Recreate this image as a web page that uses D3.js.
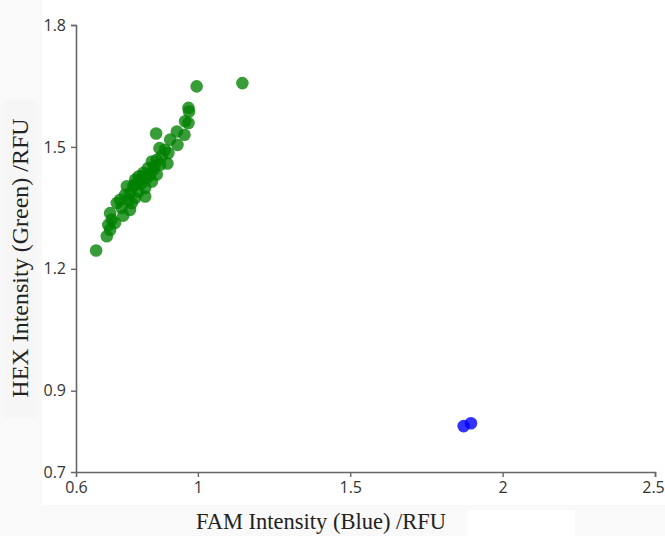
<!DOCTYPE html>
<html>
<head>
<meta charset="utf-8">
<script src="https://cdn.jsdelivr.net/npm/d3@7.9.0/dist/d3.min.js"></script>
<style>
  body { margin: 0; background: #ffffff; }
  svg { display: block; }
  .tick text { font-family: 'Open Sans', 'Noto Sans', sans-serif; font-size: 16px; fill: #333; }
  .axis-title { font-family: 'Liberation Serif', 'DejaVu Serif', serif; fill: #222; }
</style>
</head>
<body>
<svg id="chart" width="665" height="536"></svg>
<script>
// HEX cluster (green)
const hexFam = [0.666, 1.146, 0.996, 0.969, 0.971, 0.958, 0.969, 0.863, 0.931, 0.956,
  0.909, 0.933, 0.874, 0.892, 0.903, 0.881, 0.865, 0.900, 0.849, 0.837,
  0.854, 0.821, 0.865, 0.805, 0.832, 0.794, 0.849, 0.816, 0.788, 0.827,
  0.767, 0.777, 0.805, 0.827, 0.794, 0.761, 0.772, 0.734, 0.783, 0.750,
  0.777, 0.712, 0.755, 0.717, 0.706, 0.728, 0.701, 0.712, 0.794, 0.810,
  0.843, 0.876, 0.745, 0.820, 0.858];
const hexHex = [1.245, 1.657, 1.649, 1.596, 1.587, 1.563, 1.559, 1.533, 1.538, 1.530,
  1.518, 1.505, 1.497, 1.493, 1.485, 1.477, 1.468, 1.459, 1.464, 1.448,
  1.444, 1.436, 1.432, 1.427, 1.423, 1.419, 1.415, 1.411, 1.403, 1.399,
  1.403, 1.386, 1.390, 1.378, 1.374, 1.382, 1.370, 1.362, 1.362, 1.350,
  1.345, 1.337, 1.331, 1.321, 1.308, 1.313, 1.280, 1.296, 1.407, 1.419,
  1.432, 1.456, 1.370, 1.428, 1.452];

// FAM cluster (blue)
const famFam = [1.872, 1.896];
const famHex = [0.813, 0.820];

const xTicks = [0.6, 1, 1.5, 2, 2.5];
const yTicks = [0.7, 0.9, 1.2, 1.5, 1.8];

const svg = d3.select('#chart');

// faint scan-like backdrop strips
svg.append('rect').attr('x', 0).attr('y', 0).attr('width', 42).attr('height', 536).attr('fill', '#f9f9f9');
svg.append('rect').attr('x', 0).attr('y', 505).attr('width', 665).attr('height', 31).attr('fill', '#f9f9f9');
svg.append('rect').attr('x', 4).attr('y', 100).attr('width', 32).attr('height', 318).attr('fill', '#f6f6f6');
svg.append('rect').attr('x', 467).attr('y', 510).attr('width', 108).attr('height', 26).attr('fill', '#ffffff');

const x = d3.scaleLinear().domain([0.6, 2.5]).range([76, 655]);
const y = d3.scaleLinear().domain([0.7, 1.8]).range([472, 25]);

const xAxis = svg.append('g')
  .attr('transform', `translate(0,${y(0.7)})`)
  .call(d3.axisBottom(x).tickValues(xTicks).tickFormat(d3.format('')).tickSize(5).tickPadding(5));

const yAxis = svg.append('g')
  .attr('transform', `translate(${x(0.6)},0)`)
  .call(d3.axisLeft(y).tickValues(yTicks).tickFormat(d3.format('.1f')).tickSize(5).tickPadding(5));

[xAxis, yAxis].forEach((g) => {
  g.select('.domain').attr('stroke', '#666').attr('stroke-width', 1.6);
  g.selectAll('.tick line').attr('stroke', '#666').attr('stroke-width', 1.4);
});
// origin tick labels sit off the corner like in the original
xAxis.selectAll('.tick').filter((d) => d === 0.6).select('line').remove();
yAxis.selectAll('.tick').filter((d) => d === 0.7).select('line').remove();
// keep the last x label inside the frame
xAxis.selectAll('.tick').filter((d) => d === 2.5).select('text').attr('dx', -2);

// points
const hexData = hexFam.map((v, i) => ({ fam: v, hex: hexHex[i] }));
const famData = famFam.map((v, i) => ({ fam: v, hex: famHex[i] }));

svg.append('g').selectAll('circle')
  .data(hexData)
  .join('circle')
  .attr('cx', (d) => x(d.fam))
  .attr('cy', (d) => y(d.hex))
  .attr('r', 6.3)
  .attr('fill', '#008000')
  .attr('fill-opacity', 0.78);

svg.append('g').selectAll('circle')
  .data(famData)
  .join('circle')
  .attr('cx', (d) => x(d.fam))
  .attr('cy', (d) => y(d.hex))
  .attr('r', 6.3)
  .attr('fill', '#0000ff')
  .attr('fill-opacity', 0.8);

// axis titles
svg.append('text')
  .attr('class', 'axis-title')
  .attr('x', 321)
  .attr('y', 529)
  .attr('text-anchor', 'middle')
  .style('font-size', '22.5px')
  .text('FAM Intensity (Blue) /RFU');

svg.append('text')
  .attr('class', 'axis-title')
  .attr('transform', 'translate(28,258) rotate(-90)')
  .attr('text-anchor', 'middle')
  .style('font-size', '24px')
  .text('HEX Intensity (Green) /RFU');
</script>
</body>
</html>
